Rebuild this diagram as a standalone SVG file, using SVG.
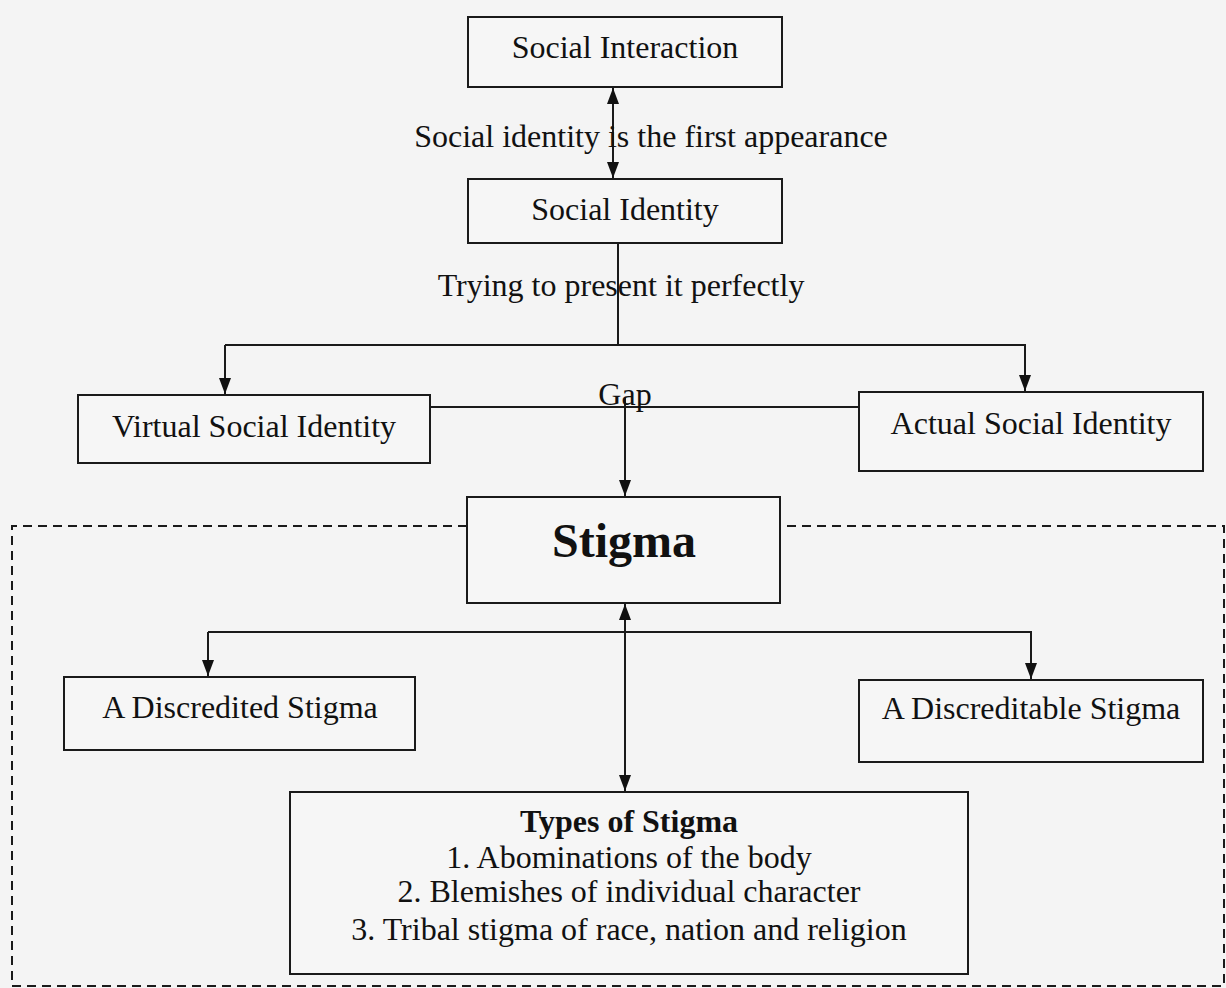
<svg xmlns="http://www.w3.org/2000/svg" width="1226" height="988" viewBox="0 0 1226 988">
<defs>
<marker id="ah" viewBox="0 0 16 12" refX="16" refY="6" markerWidth="16" markerHeight="12" markerUnits="userSpaceOnUse" orient="auto-start-reverse">
<path d="M0,0 L16,6 L0,12 Z" fill="#111"/>
</marker>
<style>
.box{fill:#f6f6f6;stroke:#1a1a1a;stroke-width:2}
.t{font-family:"Liberation Serif","Times New Roman",serif;font-size:32px;fill:#111;text-anchor:middle}
.b{font-weight:bold}
.ln{fill:none;stroke:#1a1a1a;stroke-width:2}
.dash{fill:none;stroke:#1a1a1a;stroke-width:2;stroke-dasharray:9,6}
</style>
</defs>
<rect width="1226" height="988" fill="#f4f4f4"/>
<path class="dash" d="M467,526 L12,526 L12,986 L1224,986 L1224,526 L780,526"/>
<g id="connectors">
<line class="ln" x1="613" y1="88" x2="613" y2="178" marker-start="url(#ah)" marker-end="url(#ah)"/>
<polyline class="ln" points="618,243 618,345"/>
<polyline class="ln" points="225,345 1025,345 1025,391" marker-end="url(#ah)"/>
<line class="ln" x1="225" y1="345" x2="225" y2="394" marker-end="url(#ah)"/>
<line class="ln" x1="430" y1="407" x2="859" y2="407"/>
<line class="ln" x1="625" y1="398" x2="625" y2="496" marker-end="url(#ah)"/>
<polyline class="ln" points="208,632 1031,632 1031,679" marker-end="url(#ah)"/>
<line class="ln" x1="208" y1="632" x2="208" y2="676" marker-end="url(#ah)"/>
<line class="ln" x1="625" y1="604" x2="625" y2="791" marker-start="url(#ah)" marker-end="url(#ah)"/>
</g>
<g id="label-first"><text class="t" x="651" y="147">Social identity is the first appearance</text></g>
<g id="label-trying"><text class="t" x="621" y="296">Trying to present it perfectly</text></g>
<g id="label-gap"><text class="t" x="625" y="405">Gap</text></g>
<g id="social-interaction"><rect class="box" x="468" y="17" width="314" height="70"/><text class="t" x="625" y="58">Social Interaction</text></g>
<g id="social-identity"><rect class="box" x="468" y="179" width="314" height="64"/><text class="t" x="625" y="220">Social Identity</text></g>
<g id="virtual"><rect class="box" x="78" y="395" width="352" height="68"/><text class="t" x="254" y="437">Virtual Social Identity</text></g>
<g id="actual"><rect class="box" x="859" y="392" width="344" height="79"/><text class="t" x="1031" y="434">Actual Social Identity</text></g>
<g id="stigma"><rect class="box" x="467" y="497" width="313" height="106"/><text class="t b" x="624" y="557" style="font-size:48px">Stigma</text></g>
<g id="discredited"><rect class="box" x="64" y="677" width="351" height="73"/><text class="t" x="240" y="718">A Discredited Stigma</text></g>
<g id="discreditable"><rect class="box" x="859" y="680" width="344" height="82"/><text class="t" x="1031" y="719">A Discreditable Stigma</text></g>
<g id="types"><rect class="box" x="290" y="792" width="678" height="182"/>
<text class="t b" x="629" y="832">Types of Stigma</text>
<text class="t" x="629" y="868">1. Abominations of the body</text>
<text class="t" x="629" y="902">2. Blemishes of individual character</text>
<text class="t" x="629" y="940">3. Tribal stigma of race, nation and religion</text>
</g>
</svg>
